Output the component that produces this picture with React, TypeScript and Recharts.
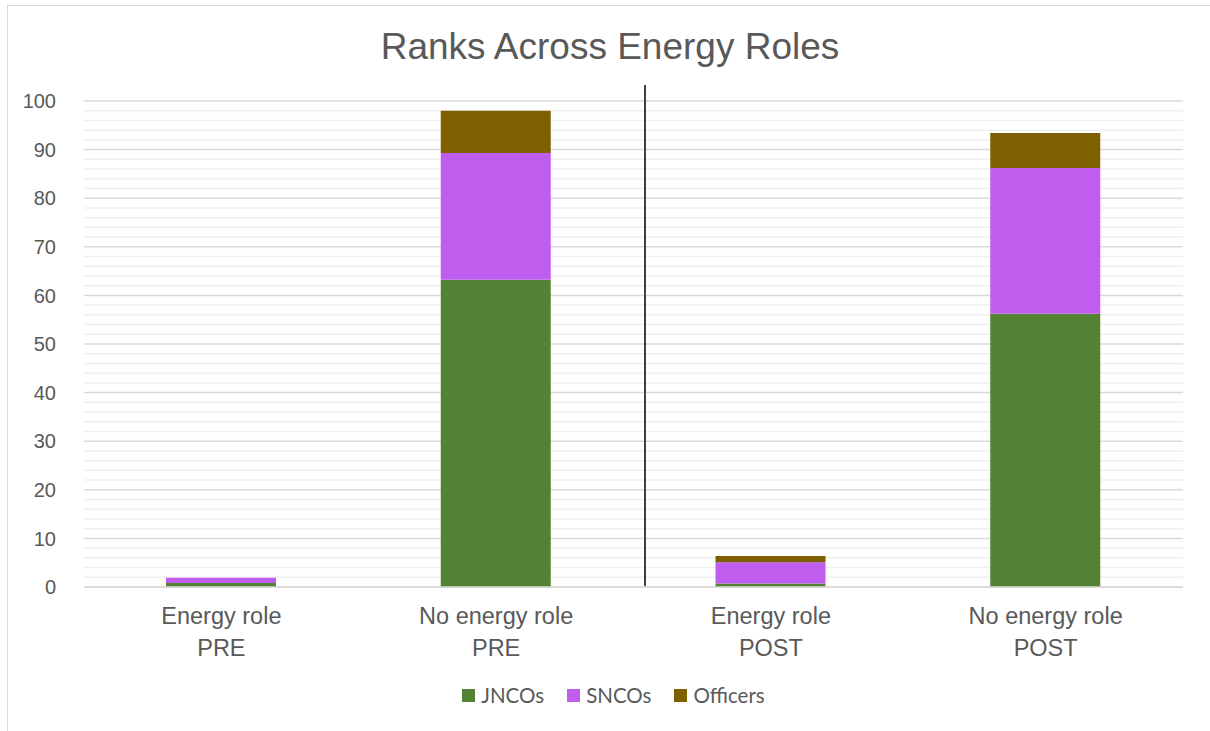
import React from "react";
import {
  BarChart,
  Bar,
  XAxis,
  YAxis,
  CartesianGrid,
  Legend,
} from "recharts";

const categories = ["Energy role PRE", "No energy role PRE", "Energy role POST", "No energy role POST"];
const labelLine1 = ["Energy role", "No energy role", "Energy role", "No energy role"];
const labelLine2 = ["PRE", "PRE", "POST", "POST"];
const seriesNames = ["JNCOs", "SNCOs", "Officers"];
const jncos = [0.8, 63.2, 0.7, 56.2];
const sncos = [1.1, 26.1, 4.4, 30.0];
const officers = [0, 8.7, 1.3, 7.2];
const majorTicks = [0, 10, 20, 30, 40, 50, 60, 70, 80, 90, 100];
const minorTicks = [
  2, 4, 6, 8, 12, 14, 16, 18, 22, 24, 26, 28, 32, 34, 36, 38, 42, 44, 46, 48,
  52, 54, 56, 58, 62, 64, 66, 68, 72, 74, 76, 78, 82, 84, 86, 88, 92, 94, 96, 98,
];

const COLORS: Record<string, string> = {
  JNCOs: "#548235",
  SNCOs: "#bf5eee",
  Officers: "#7f6000",
};

const data = categories.map((c, i) => ({
  name: c,
  JNCOs: jncos[i],
  SNCOs: sncos[i],
  Officers: officers[i],
}));

const FONT = "'Liberation Sans', Arial, sans-serif";
const GREY = "#595959";

const XTick = (props: any) => {
  const { x, y, payload } = props;
  const i = categories.indexOf(payload.value);
  return (
    <g transform={`translate(${x},${y})`}>
      <text textAnchor="middle" fill={GREY} fontSize={23.5} fontFamily={FONT}>
        <tspan x={0} dy={29}>{labelLine1[i]}</tspan>
        <tspan x={0} dy={32}>{labelLine2[i]}</tspan>
      </text>
    </g>
  );
};

const renderLegend = () => (
  <div
    style={{
      display: "flex",
      justifyContent: "center",
      gap: 23,
      fontFamily: "Lato, 'Open Sans', sans-serif",
      fontSize: 20.5,
      color: GREY,
      height: 24,
      alignItems: "center",
      paddingLeft: 20,
    }}
  >
    {seriesNames.map((s) => (
      <div key={s} style={{ display: "flex", alignItems: "center" }}>
        <span style={{ display: "inline-block", width: 13, height: 13, background: COLORS[s], marginRight: 6 }} />
        <span>{s}</span>
      </div>
    ))}
  </div>
);

const minorGen = (props: any) => {
  const { yAxis, offset } = props;
  if (yAxis && typeof yAxis.scale === "function") {
    return minorTicks.map((v) => yAxis.scale(v));
  }
  return minorTicks.map((v) => offset.top + offset.height * (1 - v / 100));
};

export default function App() {
  return (
    <div style={{ position: "absolute", left: 0, top: 0, width: 1210, height: 731, background: "#fff", overflow: "hidden" }}>
      <div style={{ position: "absolute", left: 7, top: 5, width: 1220, height: 740, borderTop: "1.5px solid #d9d9d9", borderLeft: "1.5px solid #d9d9d9" }} />
      <div style={{ position: "absolute", left: 0, width: 1220, top: 26, textAlign: "center", fontFamily: FONT, fontSize: 37, color: GREY, lineHeight: "normal" }}>
        Ranks Across Energy Roles
      </div>
      <div style={{ position: "absolute", left: 0, top: 0 }}>
        <BarChart width={1210} height={731} data={data} margin={{ top: 101, right: 27, left: 24, bottom: 24 }}>
          <CartesianGrid vertical={false} stroke="#efefef" strokeWidth={1.5} horizontalCoordinatesGenerator={minorGen} />
          <CartesianGrid vertical={false} stroke="#d9d9d9" strokeWidth={1.5} />
          <XAxis
            dataKey="name"
            height={96}
            tick={<XTick />}
            tickLine={false}
            axisLine={{ stroke: "#d9d9d9", strokeWidth: 1.5 }}
            interval={0}
          />
          <YAxis
            width={60}
            domain={[0, 100]}
            ticks={majorTicks}
            tickLine={false}
            axisLine={false}
            tickMargin={22}
            tick={{ fill: GREY, fontSize: 20, fontFamily: FONT }}
          />
          <Legend verticalAlign="bottom" height={24} content={renderLegend} />
          {seriesNames.map((s) => (
            <Bar key={s} dataKey={s} stackId="a" fill={COLORS[s]} barSize={110} isAnimationActive={false} />
          ))}
        </BarChart>
      </div>
      <div style={{ position: "absolute", left: 644, top: 85, width: 1.5, height: 501, background: "#404040" }} />
    </div>
  );
}
